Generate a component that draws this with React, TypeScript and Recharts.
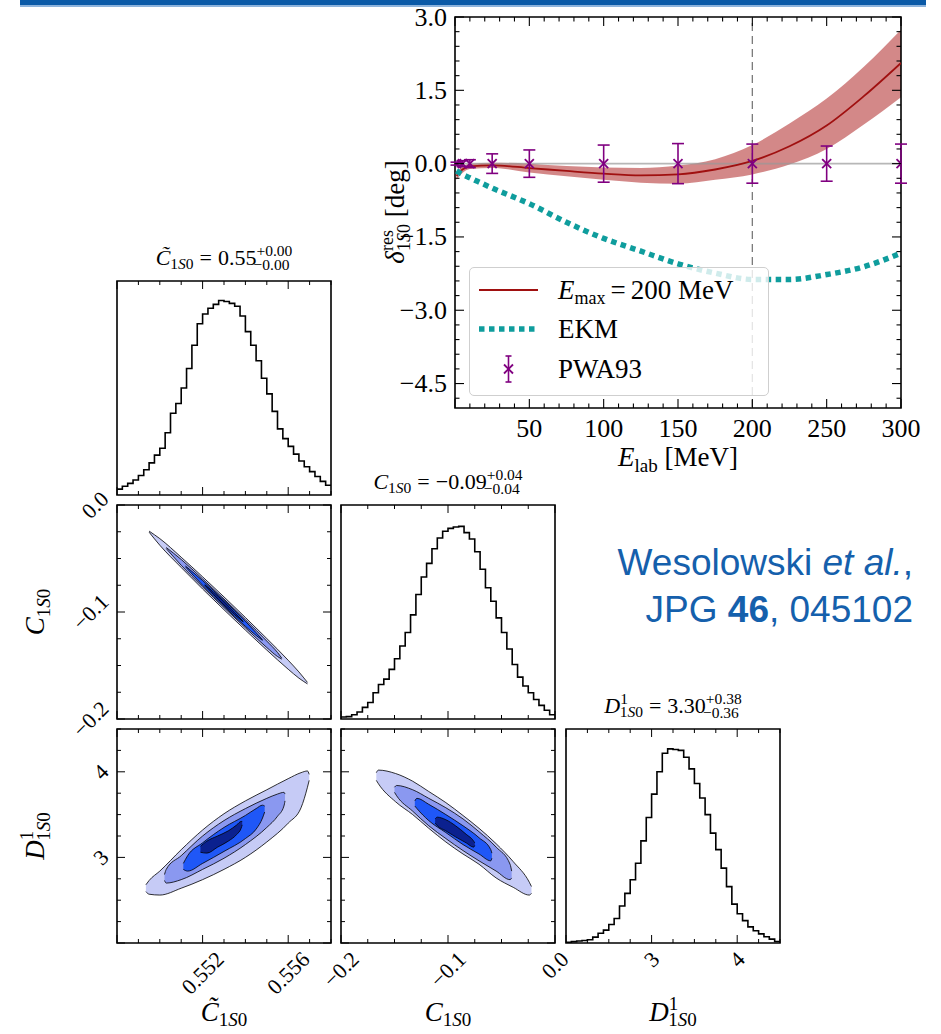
import React from "react";
import {
  ComposedChart,
  Area,
  Line,
  Scatter,
  ErrorBar,
  XAxis,
  YAxis,
  ReferenceLine,
  ReferenceArea,
} from "recharts";

const SERIF = "'Liberation Serif', 'DejaVu Serif', serif";
const SANS = "'Liberation Sans', Arial, sans-serif";
const INK = "#000";
const PURPLE = "#800080";
const TEAL = "#0f9d9d";
const DARKRED = "#a01010";
const BLUE_TXT = "#1560ac";

// ---- top panel: residual 1S0 phase shift vs E_lab ----
const E_GRID = [1, 5, 10, 25, 50, 75, 100, 125, 150, 175, 200, 225, 250, 275, 300];
const FIT_MID = [-0.25, -0.12, -0.055, -0.035, -0.09, -0.15, -0.205, -0.24, -0.22, -0.12, 0.055, 0.355, 0.78, 1.38, 2.06];
const FIT_LO = [-0.33, -0.19, -0.11, -0.09, -0.18, -0.26, -0.33, -0.39, -0.41, -0.33, -0.22, -0.02, 0.3, 0.8, 1.36];
const FIT_HI = [-0.16, -0.06, -0.01, 0.02, 0.0, -0.05, -0.08, -0.09, -0.04, 0.09, 0.38, 0.82, 1.33, 1.98, 2.74];
const EKM = [-0.15, -0.22, -0.29, -0.5, -0.82, -1.2, -1.53, -1.79, -2.05, -2.24, -2.37, -2.37, -2.27, -2.11, -1.83];

const PWA_E = [1, 5, 10, 25, 50, 100, 150, 200, 250, 300];
const PWA_RES = [0, 0, 0, 0, 0, 0, 0, 0, 0, 0];
const PWA_ERR = [0.03, 0.06, 0.08, 0.2, 0.28, 0.38, 0.41, 0.4, 0.36, 0.4];

const TOP_X_MAJOR = [0, 50, 100, 150, 200, 250, 300];
const TOP_Y_MAJOR = [-4.5, -3, -1.5, 0, 1.5, 3];

// ---- corner plot: marginal histograms ----
const CT_LO = 0.548;
const CT_BIN = 0.00025;
const HIST_CT = [0.03, 0.045, 0.06, 0.077, 0.1, 0.13, 0.165, 0.205, 0.24, 0.32, 0.42, 0.47, 0.55, 0.65, 0.77, 0.88, 0.93, 0.96, 0.98, 1.0, 0.995, 0.985, 0.97, 0.92, 0.84, 0.77, 0.69, 0.6, 0.52, 0.43, 0.34, 0.29, 0.25, 0.21, 0.175, 0.145, 0.12, 0.095, 0.07, 0.05];
const C_LO = -0.2;
const C_BIN = 0.005;
const HIST_C = [0.01, 0.012, 0.022, 0.036, 0.06, 0.085, 0.135, 0.177, 0.205, 0.255, 0.31, 0.375, 0.445, 0.535, 0.64, 0.73, 0.8, 0.875, 0.93, 0.965, 0.98, 0.987, 0.99, 0.958, 0.925, 0.86, 0.77, 0.675, 0.605, 0.52, 0.445, 0.36, 0.28, 0.215, 0.17, 0.135, 0.1, 0.07, 0.045, 0.022];
const D_LO = 2.0;
const D_BIN = 0.0625;
const HIST_D = [0.004, 0.007, 0.01, 0.013, 0.017, 0.03, 0.05, 0.066, 0.095, 0.126, 0.19, 0.255, 0.325, 0.41, 0.525, 0.645, 0.765, 0.88, 0.975, 0.998, 0.995, 0.99, 0.955, 0.895, 0.82, 0.745, 0.66, 0.565, 0.48, 0.385, 0.29, 0.2, 0.15, 0.115, 0.083, 0.063, 0.047, 0.032, 0.02, 0.008];

// ---- corner plot: 2d contours, each level = [x, low, high] ----
const LEVEL_FILL = ["#c6cbf6", "#8a98f0", "#1f57f7", "#0b218f"];

const CT_C_LEVELS = [
  [[0.5495, -0.0254, -0.0244], [0.55, -0.0376, -0.0314], [0.551, -0.0584, -0.0488], [0.552, -0.0785, -0.0671], [0.553, -0.0979, -0.0859], [0.554, -0.1169, -0.1051], [0.555, -0.1356, -0.1248], [0.556, -0.1535, -0.1451], [0.5565, -0.1618, -0.156], [0.5569, -0.1672, -0.1658]],
  [[0.5503, -0.0407, -0.0397], [0.551, -0.0563, -0.0509], [0.552, -0.0765, -0.0691], [0.553, -0.0959, -0.0879], [0.554, -0.1148, -0.1072], [0.555, -0.1332, -0.1272], [0.5555, -0.1416, -0.1378], [0.5557, -0.1441, -0.1431]],
  [[0.5512, -0.0578, -0.057], [0.552, -0.075, -0.0706], [0.553, -0.0947, -0.0891], [0.554, -0.1134, -0.1086], [0.5545, -0.1219, -0.1193], [0.5548, -0.1266, -0.126]],
  [[0.5521, -0.075, -0.0744], [0.5525, -0.0834, -0.0812], [0.553, -0.0934, -0.0904], [0.5535, -0.1026, -0.1004], [0.5539, -0.1094, -0.1088]],
];

const CT_D_LEVELS = [
  [[0.54935, 2.6, 2.68], [0.5495, 2.57, 2.73], [0.55, 2.56, 2.84], [0.551, 2.64, 3.09], [0.552, 2.74, 3.32], [0.553, 2.86, 3.51], [0.554, 3.0, 3.66], [0.555, 3.18, 3.79], [0.556, 3.4, 3.92], [0.5566, 3.58, 3.99], [0.5569, 3.82, 4.01], [0.55698, 3.9, 3.97]],
  [[0.55022, 2.73, 2.8], [0.5503, 2.7, 2.86], [0.551, 2.74, 3.02], [0.552, 2.86, 3.25], [0.553, 2.99, 3.43], [0.554, 3.15, 3.57], [0.555, 3.35, 3.69], [0.5555, 3.48, 3.74], [0.5558, 3.6, 3.76], [0.55585, 3.66, 3.74]],
  [[0.5511, 2.86, 2.93], [0.5513, 2.84, 3.02], [0.552, 2.93, 3.17], [0.553, 3.07, 3.35], [0.554, 3.22, 3.49], [0.5545, 3.33, 3.57], [0.5548, 3.46, 3.61], [0.5549, 3.53, 3.6]],
  [[0.5519, 3.06, 3.13], [0.5522, 3.05, 3.19], [0.5527, 3.12, 3.25], [0.5532, 3.19, 3.31], [0.5536, 3.27, 3.38], [0.5538, 3.34, 3.42], [0.55385, 3.38, 3.42]],
];

const C_D_LEVELS = [
  [[-0.167, 3.9, 3.99], [-0.165, 3.86, 4.02], [-0.149, 3.65, 3.98], [-0.133, 3.5, 3.89], [-0.118, 3.34, 3.77], [-0.102, 3.18, 3.64], [-0.086, 3.04, 3.49], [-0.071, 2.92, 3.34], [-0.055, 2.76, 3.16], [-0.039, 2.65, 2.95], [-0.024, 2.56, 2.71], [-0.022, 2.58, 2.66]],
  [[-0.15, 3.76, 3.82], [-0.148, 3.72, 3.84], [-0.133, 3.54, 3.79], [-0.118, 3.37, 3.69], [-0.102, 3.22, 3.58], [-0.086, 3.08, 3.45], [-0.071, 2.96, 3.3], [-0.055, 2.84, 3.12], [-0.042, 2.74, 2.92], [-0.0405, 2.76, 2.84]],
  [[-0.131, 3.6, 3.66], [-0.129, 3.57, 3.69], [-0.118, 3.43, 3.62], [-0.102, 3.29, 3.5], [-0.086, 3.15, 3.37], [-0.071, 3.04, 3.23], [-0.06, 2.96, 3.09], [-0.059, 2.99, 3.05]],
  [[-0.112, 3.4, 3.45], [-0.11, 3.37, 3.47], [-0.102, 3.31, 3.44], [-0.093, 3.24, 3.37], [-0.083, 3.17, 3.27], [-0.076, 3.12, 3.19], [-0.075, 3.14, 3.17]],
];

// ---- helpers ----
const near = (a: number, b: number) => Math.abs(a - b) < 1e-7;

function steps(lo: number, hi: number, n: number) {
  return Array.from({ length: n + 1 }, (_, i) => +(lo + ((hi - lo) * i) / n).toFixed(6));
}

function textW(s: string, f: number) {
  let w = 0;
  for (const ch of s) w += ch === "." ? 0.25 : ch === "\u2212" ? 0.564 : 0.5;
  return w * f;
}

const fmtSigned = (v: number) => (v < 0 ? "\u2212" + Math.abs(v).toFixed(1) : v.toFixed(1));

function histRows(lo: number, bin: number, vals: number[]) {
  const rows = vals.map((y, i) => ({ x: +(lo + i * bin).toFixed(6), y }));
  rows.push({ x: +(lo + vals.length * bin).toFixed(6), y: vals[vals.length - 1] });
  return rows;
}

function contourRows(levels: number[][][]) {
  const map = new Map<string, any>();
  levels.forEach((lvl, i) => {
    lvl.forEach(([x, lo, hi]) => {
      const k = x.toFixed(6);
      if (!map.has(k)) map.set(k, { x });
      map.get(k)[`r${i}`] = [lo, hi];
    });
  });
  return Array.from(map.values()).sort((a, b) => a.x - b.x);
}

// ---- top panel ----
const TP = { left: 90, top: 17, w: 446, h: 391 };

function topXTick(p: any) {
  const { x, y, payload } = p;
  const v = payload.value;
  const major = TOP_X_MAJOR.some((m) => near(m, v));
  const len = major ? 9 : 4.5;
  return (
    <g>
      <line x1={x} x2={x} y1={y} y2={y - len} stroke={INK} strokeWidth={1.1} />
      <line x1={x} x2={x} y1={TP.top} y2={TP.top + len} stroke={INK} strokeWidth={1.1} />
      {major && v > 0 && (
        <text x={x} y={y + 29} textAnchor="middle" fontFamily={SERIF} fontSize={26} fill={INK}>
          {v}
        </text>
      )}
    </g>
  );
}

function topYTick(p: any) {
  const { x, y, payload } = p;
  const v = payload.value;
  const major = TOP_Y_MAJOR.some((m) => near(m, v));
  const len = major ? 9 : 4.5;
  const right = TP.left + TP.w;
  return (
    <g>
      <line x1={x} x2={x + len} y1={y} y2={y} stroke={INK} strokeWidth={1.1} />
      <line x1={right} x2={right - len} y1={y} y2={y} stroke={INK} strokeWidth={1.1} />
      {major && (
        <text x={x - 8} y={y} textAnchor="end" dominantBaseline="central" fontFamily={SERIF} fontSize={26} fill={INK}>
          {fmtSigned(v)}
        </text>
      )}
    </g>
  );
}

function xMark(p: any) {
  const { cx, cy } = p;
  const s = 4.5;
  return (
    <g>
      <line x1={cx - s} y1={cy - s} x2={cx + s} y2={cy + s} stroke={PURPLE} strokeWidth={1.8} />
      <line x1={cx - s} y1={cy + s} x2={cx + s} y2={cy - s} stroke={PURPLE} strokeWidth={1.8} />
    </g>
  );
}

function TopPanel() {
  const fitData = E_GRID.map((E, i) => ({ E, mid: FIT_MID[i], ekm: EKM[i], band: [FIT_LO[i], FIT_HI[i]] }));
  const pwaData = PWA_E.map((E, i) => ({ E, v: PWA_RES[i], err: PWA_ERR[i] }));
  const xTicks = steps(0, 300, 30);
  const yTicks = steps(-4.8, 3.0, 26);
  return (
    <div style={{ position: "absolute", left: 455 - TP.left, top: 0 }}>
      <ComposedChart width={566} height={478} data={fitData} margin={{ top: TP.top, right: 30, left: 0, bottom: 0 }}>
        <XAxis dataKey="E" type="number" domain={[0, 300]} ticks={xTicks} interval={0} allowDataOverflow height={70}
          tickSize={0} tickMargin={0} tickLine={false} axisLine={false} tick={topXTick} />
        <YAxis type="number" domain={[-5, 3]} ticks={yTicks} interval={0} allowDataOverflow width={TP.left}
          tickSize={0} tickMargin={0} tickLine={false} axisLine={false} tick={topYTick} />
        <Area dataKey="band" type="monotone" stroke="none" fill="#aa1a1a" fillOpacity={0.52} isAnimationActive={false} />
        <ReferenceLine y={0} stroke="#999" strokeOpacity={0.7} strokeWidth={1.6} />
        <Line dataKey="mid" type="monotone" stroke={DARKRED} strokeWidth={1.8} dot={false} isAnimationActive={false} />
        <Line dataKey="ekm" type="monotone" stroke={TEAL} strokeWidth={5.5} strokeDasharray="5.5 4.5" dot={false} isAnimationActive={false} />
        <ReferenceLine x={200} stroke="#7a7a7a" strokeDasharray="8 5" strokeWidth={1.3} />
        <Scatter data={pwaData} dataKey="v" shape={xMark} isAnimationActive={false}>
          <ErrorBar dataKey="err" direction="y" width={6} stroke={PURPLE} strokeWidth={1.6} isAnimationActive={false} />
        </Scatter>
        <ReferenceArea x1={0} x2={300} y1={-5} y2={3} fill="none" stroke={INK} strokeWidth={1.6} ifOverflow="visible" />
      </ComposedChart>
    </div>
  );
}

function Legend() {
  return (
    <div style={{ position: "absolute", left: 469, top: 267, width: 300, height: 129, boxSizing: "border-box",
      border: "1px solid #cfcfcf", borderRadius: 5, background: "rgba(255,255,255,0.8)" }}>
      <svg width={300} height={129} style={{ position: "absolute", left: -1, top: -1 }}>
        <line x1={10} x2={69} y1={23} y2={23} stroke={DARKRED} strokeWidth={2} />
        <text x={89} y={32} fontFamily={SERIF} fontSize={27} fill={INK}>
          <tspan fontStyle="italic">E</tspan>
          <tspan fontSize={18} dy={5}>max</tspan>
          <tspan dy={-5} dx={5}>=</tspan>
          <tspan dx={5}>200 MeV</tspan>
        </text>
        <line x1={10} x2={69} y1={62} y2={62} stroke={TEAL} strokeWidth={5.5} strokeDasharray="5.5 4.5" />
        <text x={89} y={71} fontFamily={SERIF} fontSize={27} fill={INK}>EKM</text>
        <line x1={39.5} x2={39.5} y1={89} y2={115} stroke={PURPLE} strokeWidth={1.6} />
        <line x1={36.5} x2={42.5} y1={89} y2={89} stroke={PURPLE} strokeWidth={1.6} />
        <line x1={36.5} x2={42.5} y1={115} y2={115} stroke={PURPLE} strokeWidth={1.6} />
        {xMark({ cx: 39.5, cy: 102 })}
        <text x={89} y={111} fontFamily={SERIF} fontSize={27} fill={INK}>PWA93</text>
      </svg>
    </div>
  );
}

// ---- corner panels ----
type AxisSpec = { domain: [number, number]; ticks: number[]; major: number[]; labels: [number, string][] };

const AX_CT: AxisSpec = { domain: [0.548, 0.558], ticks: steps(0.548, 0.558, 10), major: [0.548, 0.552, 0.556], labels: [[0.552, "0.552"], [0.556, "0.556"]] };
const AX_C: AxisSpec = { domain: [-0.2, 0], ticks: steps(-0.2, 0, 8), major: [-0.2, -0.1, 0], labels: [[-0.2, "\u22120.2"], [-0.1, "\u22120.1"], [0, "0.0"]] };
const AX_D: AxisSpec = { domain: [2, 4.5], ticks: steps(2, 4.5, 10), major: [2, 3, 4], labels: [[3, "3"], [4, "4"]] };

const COL_X = [117, 341, 566];
const ROW_Y = [281, 505, 729];
const PW = 214;
const PH = 214;
const ML = 70;
const MT = 26;
const MR = 30;
const XH = 84;
const TICK_FS = 22;

function cornerXTick(ax: AxisSpec, show: boolean) {
  return (p: any) => {
    const { x, y, payload } = p;
    const v = payload.value;
    const len = ax.major.some((m) => near(m, v)) ? 8 : 4;
    const lab = show ? ax.labels.find((l) => near(l[0], v)) : undefined;
    let label = null;
    if (lab) {
      const w = textW(lab[1], TICK_FS);
      const cy = y + 7 + 0.354 * (w + 15);
      label = (
        <text x={x} y={cy} transform={`rotate(-45 ${x} ${cy})`} textAnchor="middle" dominantBaseline="central"
          fontFamily={SERIF} fontSize={TICK_FS} fill={INK}>
          {lab[1]}
        </text>
      );
    }
    return (
      <g>
        <line x1={x} x2={x} y1={y} y2={y - len} stroke={INK} strokeWidth={1} />
        <line x1={x} x2={x} y1={MT} y2={MT + len} stroke={INK} strokeWidth={1} />
        {label}
      </g>
    );
  };
}

function cornerYTick(ax: AxisSpec, show: boolean) {
  return (p: any) => {
    const { x, y, payload } = p;
    const v = payload.value;
    const len = ax.major.some((m) => near(m, v)) ? 8 : 4;
    const lab = show ? ax.labels.find((l) => near(l[0], v)) : undefined;
    const right = ML + PW;
    let label = null;
    if (lab) {
      const w = textW(lab[1], TICK_FS);
      const cx = x - 7 - 0.354 * (w + 15);
      label = (
        <text x={cx} y={y} transform={`rotate(-45 ${cx} ${y})`} textAnchor="middle" dominantBaseline="central"
          fontFamily={SERIF} fontSize={TICK_FS} fill={INK}>
          {lab[1]}
        </text>
      );
    }
    return (
      <g>
        <line x1={x} x2={x + len} y1={y} y2={y} stroke={INK} strokeWidth={1} />
        <line x1={right} x2={right - len} y1={y} y2={y} stroke={INK} strokeWidth={1} />
        {label}
      </g>
    );
  };
}

function HistPanel({ col, row, ax, lo, bin, vals, showX }: any) {
  const data = histRows(lo, bin, vals);
  return (
    <div style={{ position: "absolute", left: COL_X[col] - ML, top: ROW_Y[row] - MT }}>
      <ComposedChart width={ML + PW + MR} height={MT + PH + XH} data={data} margin={{ top: MT, right: MR, left: 0, bottom: 0 }}>
        <XAxis dataKey="x" type="number" domain={ax.domain} ticks={ax.ticks} interval={0} allowDataOverflow height={XH}
          tickSize={0} tickMargin={0} tickLine={false} axisLine={false} tick={cornerXTick(ax, showX)} />
        <YAxis type="number" domain={[0, 1.1]} allowDataOverflow width={ML} tick={false} tickLine={false} axisLine={false} />
        <Line dataKey="y" type="stepAfter" stroke={INK} strokeWidth={1.6} dot={false} isAnimationActive={false} />
        <ReferenceArea x1={ax.domain[0]} x2={ax.domain[1]} y1={0} y2={1.1} fill="none" stroke={INK} strokeWidth={1.6} ifOverflow="visible" />
      </ComposedChart>
    </div>
  );
}

function ContourPanel({ col, row, xAx, yAx, levels, showX, showY }: any) {
  const data = contourRows(levels);
  return (
    <div style={{ position: "absolute", left: COL_X[col] - ML, top: ROW_Y[row] - MT }}>
      <ComposedChart width={ML + PW + MR} height={MT + PH + XH} data={data} margin={{ top: MT, right: MR, left: 0, bottom: 0 }}>
        <XAxis dataKey="x" type="number" domain={xAx.domain} ticks={xAx.ticks} interval={0} allowDataOverflow height={XH}
          tickSize={0} tickMargin={0} tickLine={false} axisLine={false} tick={cornerXTick(xAx, showX)} />
        <YAxis type="number" domain={yAx.domain} ticks={yAx.ticks} interval={0} allowDataOverflow width={ML}
          tickSize={0} tickMargin={0} tickLine={false} axisLine={false} tick={cornerYTick(yAx, showY)} />
        {levels.map((_: any, i: number) => (
          <Area key={i} dataKey={`r${i}`} type="monotone" connectNulls fill={LEVEL_FILL[i]} fillOpacity={1}
            stroke={INK} strokeWidth={0.8} isAnimationActive={false} />
        ))}
        <ReferenceArea x1={xAx.domain[0]} x2={xAx.domain[1]} y1={yAx.domain[0]} y2={yAx.domain[1]} fill="none"
          stroke={INK} strokeWidth={1.6} ifOverflow="visible" />
      </ComposedChart>
    </div>
  );
}

function Sub1S0() {
  return (
    <>
      1<tspan fontStyle="italic">S</tspan>0
    </>
  );
}

// corner title: base symbol, optional superscript on symbol, value with asymmetric errors
function Title({ x, y, sym, symSup, val, up, dn }: any) {
  const fs = 22;
  const ss = 15.5;
  const supW = textW(up, ss) + 0.25 * ss;
  return (
    <text x={x} y={y} textAnchor="middle" fontFamily={SERIF} fontSize={fs} fill={INK}>
      <tspan fontStyle="italic">{sym}</tspan>
      {symSup ? (
        <>
          <tspan fontSize={ss} dy={-9}>{symSup}</tspan>
          <tspan fontSize={ss} dx={-0.5 * ss} dy={13}><Sub1S0 /></tspan>
        </>
      ) : (
        <tspan fontSize={ss} dy={4}><Sub1S0 /></tspan>
      )}
      <tspan dy={-4} dx={6}>=</tspan>
      <tspan dx={6}>{val}</tspan>
      <tspan fontSize={ss} dy={-9}>{up}</tspan>
      <tspan fontSize={ss} dx={-supW} dy={14}>{dn}</tspan>
    </text>
  );
}

function Texts() {
  const t = { fontFamily: SERIF, fill: INK } as any;
  return (
    <svg width={941} height={1034} style={{ position: "absolute", left: 0, top: 0, pointerEvents: "none" }}>
      {/* top panel axis titles */}
      <text x={678} y={466} textAnchor="middle" fontSize={27} {...t}>
        <tspan fontStyle="italic">E</tspan>
        <tspan fontSize={19} dy={6}>lab</tspan>
        <tspan dy={-6}>{"\u00a0[MeV]"}</tspan>
      </text>
      <g transform="translate(404,212) rotate(-90)">
        <text x={0} y={0} textAnchor="middle" fontSize={27} {...t}>
          <tspan fontStyle="italic">{"\u03b4"}</tspan>
          <tspan fontSize={18} dy={-11}>res</tspan>
          <tspan fontSize={18} dx={-21} dy={17}><Sub1S0 /></tspan>
          <tspan dy={-6}>{"\u00a0[deg]"}</tspan>
        </text>
      </g>

      {/* corner titles */}
      <Title x={224} y={265} sym={"C\u0303"} val="0.55" up="+0.00" dn={"\u22120.00"} />
      <Title x={448} y={489} sym="C" val={"\u22120.09"} up="+0.04" dn={"\u22120.04"} />
      <Title x={673} y={713} sym="D" symSup="1" val="3.30" up="+0.38" dn={"\u22120.36"} />

      {/* corner axis labels */}
      <text x={224} y={1021} textAnchor="middle" fontSize={27} {...t}>
        <tspan fontStyle="italic">{"C\u0303"}</tspan>
        <tspan fontSize={19} dy={5}><Sub1S0 /></tspan>
      </text>
      <text x={448} y={1021} textAnchor="middle" fontSize={27} {...t}>
        <tspan fontStyle="italic">C</tspan>
        <tspan fontSize={19} dy={5}><Sub1S0 /></tspan>
      </text>
      <text x={673} y={1021} textAnchor="middle" fontSize={27} {...t}>
        <tspan fontStyle="italic">D</tspan>
        <tspan fontSize={19} dy={-11}>1</tspan>
        <tspan fontSize={19} dx={-9.5} dy={16}><Sub1S0 /></tspan>
      </text>
      <g transform="translate(44,612) rotate(-90)">
        <text x={0} y={0} textAnchor="middle" fontSize={27} {...t}>
          <tspan fontStyle="italic">C</tspan>
          <tspan fontSize={19} dy={6}><Sub1S0 /></tspan>
        </text>
      </g>
      <g transform="translate(44,836) rotate(-90)">
        <text x={0} y={0} textAnchor="middle" fontSize={27} {...t}>
          <tspan fontStyle="italic">D</tspan>
          <tspan fontSize={19} dy={-11}>1</tspan>
          <tspan fontSize={19} dx={-9.5} dy={17}><Sub1S0 /></tspan>
        </text>
      </g>

      {/* reference */}
      <text x={913} y={575} textAnchor="end" fontFamily={SANS} fontSize={37} fill={BLUE_TXT}>
        Wesolowski <tspan fontStyle="italic">et al.</tspan>,
      </text>
      <text x={913} y={622} textAnchor="end" fontFamily={SANS} fontSize={37} fill={BLUE_TXT}>
        JPG <tspan fontWeight="bold">46</tspan>, 045102
      </text>
    </svg>
  );
}

export default function App() {
  return (
    <div style={{ position: "absolute", left: 0, top: 0, width: 941, height: 1034, background: "#fff", overflow: "hidden" }}>
      <div style={{ position: "absolute", left: 20, top: 0, width: 906, height: 5, background: "#0b5aa7" }} />
      <div style={{ position: "absolute", left: 20, top: 5, width: 906, height: 1.5, background: "#8db3dc" }} />
      <TopPanel />
      <Legend />
      <HistPanel col={0} row={0} ax={AX_CT} lo={CT_LO} bin={CT_BIN} vals={HIST_CT} showX={false} />
      <ContourPanel col={0} row={1} xAx={AX_CT} yAx={AX_C} levels={CT_C_LEVELS} showX={false} showY={true} />
      <HistPanel col={1} row={1} ax={AX_C} lo={C_LO} bin={C_BIN} vals={HIST_C} showX={false} />
      <ContourPanel col={0} row={2} xAx={AX_CT} yAx={AX_D} levels={CT_D_LEVELS} showX={true} showY={true} />
      <ContourPanel col={1} row={2} xAx={AX_C} yAx={AX_D} levels={C_D_LEVELS} showX={true} showY={false} />
      <HistPanel col={2} row={2} ax={AX_D} lo={D_LO} bin={D_BIN} vals={HIST_D} showX={true} />
      <Texts />
    </div>
  );
}
